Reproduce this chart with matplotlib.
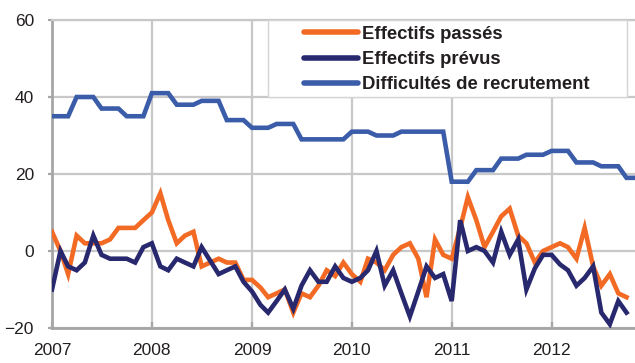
import matplotlib.dates as mdates
import matplotlib.pyplot as plt
import pandas as pd
from matplotlib import patches

plt.rcParams["font.family"] = ["Liberation Sans", "DejaVu Sans"]

# Monthly survey balances, January 2007 onwards
months = pd.date_range("2007-01-01", periods=71, freq="MS")

effectifs_passes = [
    5, 0, -6, 4, 2, 2, 2, 3, 6, 6, 6, 8,
    10, 15, 8, 2, 4, 5, -4, -3, -2, -3, -3, -7.5,
    -7.5, -9.5, -12, -11, -10, -16, -11, -12, -9, -5, -6.5, -3,
    -6, -8, -2, -3, -5, -1, 1, 2, -2, -12, 3, -1,
    -2, 6, 14, 8, 1, 5, 9, 11, 4, 2, -3, 0,
    1, 2, 1, -2, 6, -4, -9, -6, -11, -12,
]

effectifs_prevus = [
    -10, 0, -4, -5, -3, 4, -1, -2, -2, -2, -3, 1,
    2, -4, -5, -2, -3, -4, 1, -2.5, -6, -5, -4, -8,
    -10.5, -14, -16, -13, -10, -15, -9, -5, -8, -8, -4, -7,
    -8, -7, -5, 0, -9, -5, -11, -17, -10.5, -4, -7, -6,
    -13, 8, 0, 1, 0, -3, 5, -1, 3, -10, -4.5, -1,
    -1, -3.5, -5, -9, -7, -4, -16, -19, -13, -16,
]

difficultes_recrutement = [
    35, 35, 35, 40, 40, 40, 37, 37, 37, 35, 35, 35,
    41, 41, 41, 38, 38, 38, 39, 39, 39, 34, 34, 34,
    32, 32, 32, 33, 33, 33, 29, 29, 29, 29, 29, 29,
    31, 31, 31, 30, 30, 30, 31, 31, 31, 31, 31, 31,
    18, 18, 18, 21, 21, 21, 24, 24, 24, 25, 25, 25,
    26, 26, 26, 23, 23, 23, 22, 22, 22, 19, 19,
]

y_ticks = [-20, 0, 20, 40, 60]

TEXT = "#231f20"
GRID = "#c8c8c8"
AXIS = "#a6a6a6"

fig = plt.figure(figsize=(6.35, 3.63), dpi=100)
ax = fig.add_axes([52 / 635, 35 / 363, 583 / 635, 308 / 363])

series = [
    (effectifs_passes, "#f26a23", "Effectifs passés"),
    (effectifs_prevus, "#28286e", "Effectifs prévus"),
    (difficultes_recrutement, "#3a5ca9", "Difficultés de recrutement"),
]
for values, color, label in series:
    ax.plot(months[: len(values)], values, color=color, lw=3.3, label=label,
            solid_joinstyle="miter", zorder=3)

ax.set_xlim(months[0], months[-1])
ax.set_ylim(-20, 60)
ax.set_yticks(y_ticks)
ax.xaxis.set_major_locator(mdates.YearLocator())
ax.xaxis.set_major_formatter(mdates.DateFormatter("%Y"))

ax.grid(color=GRID, lw=1.6)
ax.set_axisbelow(True)
ax.spines["right"].set_visible(False)
ax.spines["top"].set_color(GRID)
ax.spines["top"].set_linewidth(1.6)
for side in ("left", "bottom"):
    ax.spines[side].set_color(AXIS)
    ax.spines[side].set_linewidth(2)
ax.tick_params(axis="y", direction="out", length=3, width=1.6, color=AXIS,
               pad=10, labelsize=12.5, labelcolor=TEXT)
ax.tick_params(axis="x", direction="in", length=4, width=1.6, color=AXIS,
               pad=11, labelsize=12.5, labelcolor=TEXT)

# White box behind the legend, flush with the top of the plot
box = patches.Rectangle((0.3705, 0.75), 0.616, 0.25, transform=ax.transAxes,
                        facecolor="white", edgecolor="#d4d4d4", lw=1,
                        zorder=4, clip_on=False)
ax.add_patch(box)

leg = ax.legend(loc="upper left", bbox_to_anchor=(0.432, 0.981), frameon=False,
                borderpad=0, borderaxespad=0, handlelength=2.92,
                handletextpad=0.22, labelspacing=0.44,
                prop={"weight": "bold", "size": 13.3})
leg.set_zorder(5)
for text in leg.get_texts():
    text.set_color(TEXT)
for line in leg.get_lines():
    line.set_linewidth(4)
    line.set_solid_capstyle("round")

fig.savefig("out.png", dpi=100)
